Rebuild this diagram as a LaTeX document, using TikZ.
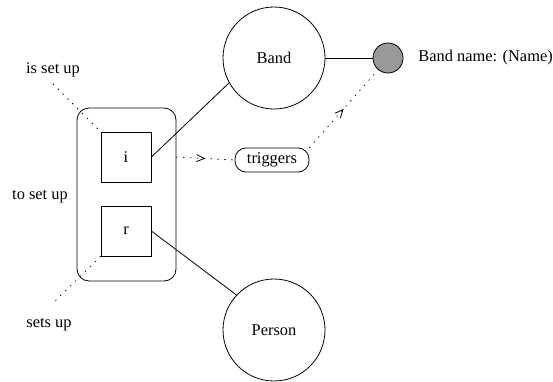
\documentclass[tikz,border=0pt]{standalone}
\usepackage{fontspec}
\setmainfont{Liberation Serif}
\usetikzlibrary{decorations.markings,arrows.meta}
\begin{document}
\begin{tikzpicture}[x=1pt,y=-1pt,
  font=\fontsize{16.4}{19}\selectfont,
  line width=0.8pt,
  ent/.style={circle,draw,minimum size=102pt,inner sep=0pt},
  attr/.style={circle,draw,fill=black!40,minimum size=30pt,inner sep=0pt},
  rolebox/.style={rectangle,draw,minimum size=50pt,inner sep=0pt},
  grp/.style={rectangle,draw,rounded corners=12pt,minimum width=99pt,minimum height=173pt},
  pill/.style={rectangle,draw,rounded corners=11pt,minimum width=74pt,minimum height=24pt,inner sep=0pt},
  dots/.style={dash pattern=on 0.9pt off 6pt,line cap=round},
  midarrow/.style={postaction={decorate},decoration={markings,
      mark=at position 0.5 with {\arrow[solid,line cap=butt]{Straight Barb[open,length=8pt,width=7pt]}}}},
  lbl/.style={inner sep=0pt}]
\useasboundingbox (0,0) rectangle (553,381);

% entities and attribute
\node[ent] (band) at (274,58) {Band};
\node[ent] (person) at (274,330) {Person};
\node[attr] (bname) at (388,58) {};
\node[lbl,anchor=west] (bnamelbl) at (418,58) {Band name: (Name)};

% relationship with its two roles
\node[grp] (rel) at (126.5,194.5) {};
\node[rolebox] (ri) at (126,157) {i};
\node[rolebox] (rr) at (126,231) {r};
\node[pill] (trig) at (272,160) {triggers};

% readings
\node[lbl] (isup) at (53,70) {is set up};
\node[lbl] (toup) at (40,197) {to set up};
\node[lbl] (setsup) at (49,325) {sets up};
\coordinate (isupend) at (53,84);
\coordinate (setsupend) at (53,303);

% role connectors
\draw (ri.east) -- (band.209);
\draw (rr.east) -- (person.137);
\draw (band.east) -- (bname.west);

% dotted links
\draw[dots] (isupend) -- (ri.north west);
\draw[dots] (rr.south west) -- (setsupend);
\draw[dots,midarrow] (rel.east |- ri.east) -- (trig.west);
\draw[dots,midarrow] (trig.north east) -- (bname.230);
\end{tikzpicture}
\end{document}
